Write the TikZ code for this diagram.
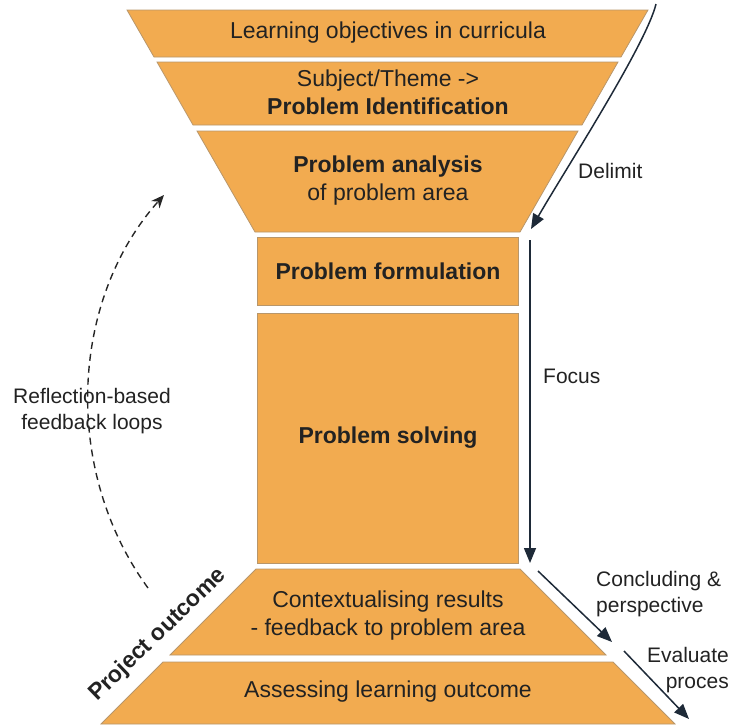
\documentclass[tikz,border=0pt]{standalone}
\usepackage{fontspec}
\setmainfont{Liberation Sans}
\usetikzlibrary{arrows.meta}
\definecolor{funnelfill}{HTML}{F2AB50}
\definecolor{funneledge}{HTML}{B8966A}
\definecolor{inkdark}{HTML}{1E2A38}
\definecolor{txt}{HTML}{222222}
\tikzset{
  stage/.style={fill=funnelfill, draw=funneledge, line width=0.8pt},
  lbl/.style={text=txt, font=\fontsize{23}{28}\selectfont, align=center, inner sep=0pt},
  side/.style={lbl, font=\fontsize{21}{26.5}\selectfont},
  flow/.style={draw=inkdark, line width=1.5pt, -{Triangle[length=15pt,width=12pt]}},
  loop/.style={draw=black!85, line width=1.4pt, dash pattern=on 7pt off 5pt,
               -{Stealth[length=13pt,width=11pt]}},
}
\begin{document}
\begin{tikzpicture}[x=1pt, y=-1pt]
\useasboundingbox (0,0) rectangle (736,724);

% upper funnel
\draw[stage] (127,10) -- (648,10) -- (621,57) -- (154,57) -- cycle;
\draw[stage] (157,62) -- (618,62) -- (582,125) -- (193,125) -- cycle;
\draw[stage] (197,131) -- (578,131) -- (520,232) -- (255,232) -- cycle;
% neck
\draw[stage] (257,237) rectangle (518,305);
\draw[stage] (257,313) rectangle (518,563);
% lower funnel
\draw[stage] (256,569) -- (520,569) -- (606,655) -- (170,655) -- cycle;
\draw[stage] (163,662) -- (613,662) -- (675,724) -- (101,724) -- cycle;

% stage texts
\node[lbl] (objectives) at (388,33) {Learning objectives in curricula};
\node[lbl] (subject) at (388,92) {Subject/Theme ->\\\textbf{Problem Identification}};
\node[lbl] (analysis) at (388,181) {\textbf{Problem analysis}\\of problem area};
\node[lbl] (formulation) at (388,271) {\textbf{Problem formulation}};
\node[lbl] (solving) at (388,438) {\textbf{Problem solving}};
\node[lbl] (context) at (388,616) {Contextualising results\\- feedback to problem area};
\node[lbl] (assess) at (388,692) {Assessing learning outcome};

% side labels
\node[side, anchor=west] (delimit) at (578,171) {Delimit};
\node[side, anchor=west] (focus) at (543,376) {Focus};
\node[side, align=left, anchor=west] (concl) at (596,594) {Concluding \&\\perspective};
\node[side, align=right, anchor=east] (evalp) at (729,670) {Evaluate\\proces};
\node[side] (reflect) at (92,411) {Reflection-based\\feedback loops};
\node[lbl, rotate=44, font=\fontsize{23}{28}\selectfont\bfseries] (outcome) at (158,635) {Project outcome};

% flow arrows
\coordinate (dA) at (656,4);
\coordinate (dB) at (531,229);
\coordinate (fA) at (530,240);
\coordinate (fB) at (530,563);
\coordinate (cA) at (538,571);
\coordinate (cB) at (612,642);
\coordinate (eA) at (624,651);
\coordinate (eB) at (689,719);
\draw[flow] (dA) .. controls (646,45) and (565,170) .. (dB);
\draw[flow] (fA) -- (fB);
\draw[flow] (cA) -- (cB);
\draw[flow] (eA) -- (eB);

% feedback loop
\coordinate (lA) at (148,588);
\coordinate (lB) at (164,195);
\draw[loop] (lA) .. controls (62,470) and (70,300) .. (lB);
\end{tikzpicture}
\end{document}
